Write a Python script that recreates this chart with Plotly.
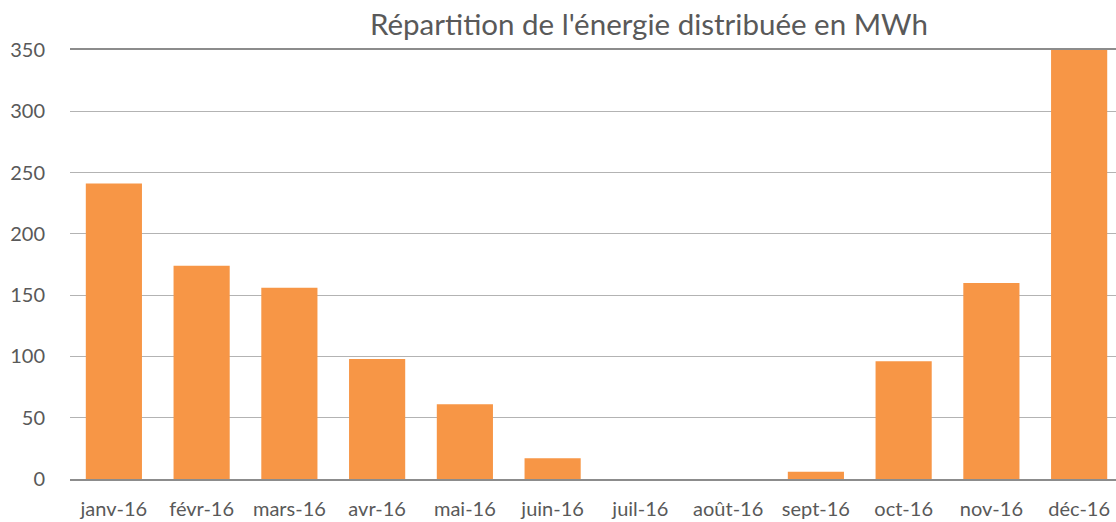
import plotly.graph_objects as go

months = ["janv-16", "févr-16", "mars-16", "avr-16", "mai-16", "juin-16",
          "juil-16", "août-16", "sept-16", "oct-16", "nov-16", "déc-16"]
energy_mwh = [241, 174, 156, 98, 61, 17, 0, 0, 6, 96, 160, 350]
y_ticks = [0, 50, 100, 150, 200, 250, 300, 350]

fig = go.Figure(go.Bar(x=months, y=energy_mwh, marker_color="#F79646",
                       marker_line_width=0))

fig.update_layout(
    width=1116, height=522,
    margin=dict(l=70, r=0, t=50, b=43),
    plot_bgcolor="white", paper_bgcolor="white",
    bargap=0.36,
    showlegend=False,
    font=dict(family="Lato, Open Sans, sans-serif", color="#595959", size=20),
    title=dict(text="Répartition de l'énergie distribuée en MWh",
               x=0.5815, xref="container", xanchor="center",
               y=0.952, yref="container", yanchor="middle",
               font=dict(size=29.5, color="#595959")),
)
fig.update_xaxes(type="category", range=[-0.5, 11.42], showgrid=False,
                 showline=True, linecolor="#8c8c8c", linewidth=2, mirror=True,
                 ticks="", ticklabelstandoff=11, tickfont=dict(size=20))
fig.update_yaxes(range=[0, 350], tickvals=y_ticks, showgrid=True,
                 gridcolor="#b3b3b3", gridwidth=1, zeroline=False,
                 showline=False, ticks="", ticklabelstandoff=24,
                 tickfont=dict(size=20))

fig.write_html("out.html", config={"displayModeBar": False},
               post_script="document.body.style.margin='0';")
